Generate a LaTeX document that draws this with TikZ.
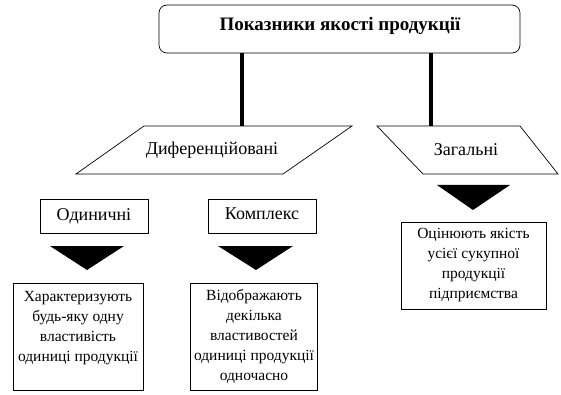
\documentclass[tikz,border=0pt]{standalone}
\usepackage{fontspec}
\setmainfont{Liberation Serif}
\begin{document}
\begin{tikzpicture}[x=1pt,y=-1pt,
  frame/.style={draw,line width=0.7pt},
  link/.style={line width=4pt},
  caption/.style={font=\fontsize{18}{20}\selectfont},
  note/.style={align=center,font=\fontsize{15.5}{20}\selectfont},
  pointer/.style={fill=black}
]
  \useasboundingbox (0,0) rectangle (561,395);
  % top box
  \node[frame,rounded corners=8pt,minimum width=361pt,minimum height=48pt] (title) at (339.5,29) {};
  \node[font=\bfseries\fontsize{19}{20}\selectfont] (titletext) at (340,26) {Показники якості продукції};
  % two groups
  \draw[frame] (144,126) -- (352,126) -- (283,174) -- (76,174) -- cycle;
  \node[caption] (diff) at (212,150) {Диференційовані};
  \draw[frame] (377,126) -- (520,126) -- (558,174) -- (423,174) -- cycle;
  \node[caption] (total) at (466,150) {Загальні};
  \coordinate (difftop) at (242,126);
  \coordinate (totaltop) at (431,126);
  \draw[link] (title.south -| difftop) -- (difftop);
  \draw[link] (title.south -| totaltop) -- (totaltop);
  % kinds
  \node[frame,caption,minimum width=108pt,minimum height=34pt] (single) at (94,216) {Одиничні};
  \node[frame,caption,minimum width=108pt,minimum height=34pt] (complex) at (262,216) {\raisebox{4pt}{Комплекс}};
  \fill[pointer] (50,246) -- (124,246) -- (87,270) -- cycle;
  \fill[pointer] (218,246) -- (293,246) -- (256,270) -- cycle;
  \fill[pointer] (437,185) -- (510,185) -- (473,210) -- cycle;
  % notes
  \node[frame,minimum width=130pt,minimum height=107pt] (singlenote) at (78,336.5) {};
  \node[note] (singletext) at (78,328) {Характеризують\\будь-яку одну\\властивість\\одиниці продукції};
  \node[frame,note,minimum width=118pt,minimum height=107pt] (complexnote) at (254,336.5)
    {Відображають\\декілька\\властивостей\\одиниці продукції\\одночасно};
  \node[frame,note,minimum width=145pt,minimum height=87pt] (totalnote) at (473.5,265.5)
    {Оцінюють якість\\усієї сукупної\\продукції\\підприємства};
\end{tikzpicture}
\end{document}
